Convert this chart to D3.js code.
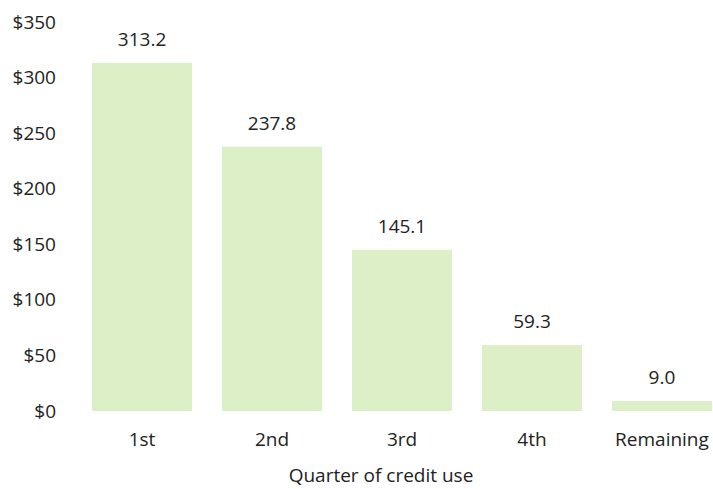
<!DOCTYPE html>
<html>

<head>
    <style>
        body {
            margin: 0;
            background: #fff;
            font-family: "Open Sans", Arial, sans-serif;
        }
    </style>
    <script src="https://cdn.jsdelivr.net/npm/d3@7/dist/d3.min.js"></script>
    <title>Quarter of credit use</title>
</head>

<body>
    <div id="chart"></div>

    <script>
        // Data
        const categories = ["1st", "2nd", "3rd", "4th", "Remaining"];
        const values = [313.2, 237.8, 145.1, 59.3, 9.0];
        const yTicks = [0, 50, 100, 150, 200, 250, 300, 350];

        const width = 713, height = 489;
        const svg = d3.select("#chart").append("svg")
            .attr("width", width)
            .attr("height", height);

        const xScale = d3.scaleBand()
            .domain(categories)
            .range([92, 712])
            .paddingInner(0.23)
            .paddingOuter(0);

        const yScale = d3.scaleLinear()
            .domain([0, 350])
            .range([411, 22]);

        // Bars
        svg.selectAll("rect")
            .data(values)
            .enter().append("rect")
            .attr("x", (d, i) => xScale(categories[i]))
            .attr("y", d => yScale(d))
            .attr("width", xScale.bandwidth())
            .attr("height", d => yScale(0) - yScale(d))
            .attr("fill", "#dcefc6");

        // Value labels
        svg.selectAll(".val")
            .data(values)
            .enter().append("text")
            .attr("class", "val")
            .attr("x", (d, i) => xScale(categories[i]) + xScale.bandwidth() / 2)
            .attr("y", d => yScale(d) - 17)
            .attr("text-anchor", "middle")
            .attr("font-size", 19)
            .attr("fill", "#222")
            .text(d => d.toFixed(1));

        // Y axis (labels only)
        const yAxis = svg.append("g")
            .attr("transform", "translate(56,0)")
            .call(d3.axisLeft(yScale).tickValues(yTicks).tickSize(0).tickPadding(0)
                .tickFormat(d => "$" + d));
        yAxis.select(".domain").remove();
        yAxis.selectAll("text")
            .attr("font-size", 19)
            .attr("font-family", "\"Open Sans\", Arial, sans-serif")
            .attr("fill", "#222");

        // X axis (labels only)
        const xAxis = svg.append("g")
            .attr("transform", "translate(0,411)")
            .call(d3.axisBottom(xScale).tickSize(0).tickPadding(22));
        xAxis.select(".domain").remove();
        xAxis.selectAll("text")
            .attr("font-size", 19)
            .attr("font-family", "\"Open Sans\", Arial, sans-serif")
            .attr("fill", "#222");

        // Axis title
        svg.append("text")
            .attr("x", 381)
            .attr("y", 482)
            .attr("text-anchor", "middle")
            .attr("font-size", 19)
            .attr("fill", "#222")
            .text("Quarter of credit use");
    </script>
</body>

</html>
